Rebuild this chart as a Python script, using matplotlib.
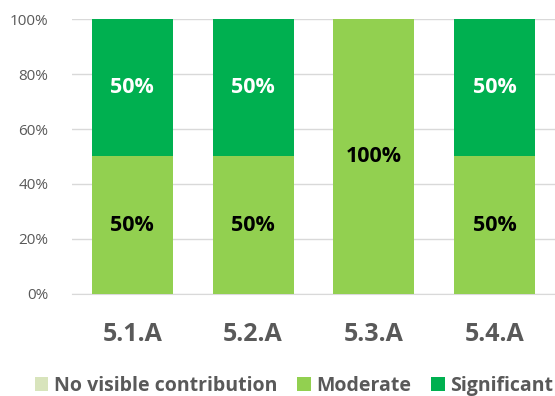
import matplotlib.pyplot as plt
import numpy as np

categories = ["5.1.A", "5.2.A", "5.3.A", "5.4.A"]
series_names = ["No visible contribution", "Moderate", "Significant"]
no_visible = [0, 0, 0, 0]
moderate = [50, 50, 100, 50]
significant = [50, 50, 0, 50]

colors = ["#d8e4bc", "#92d050", "#00b050"]
label_colors = ["black", "black", "white"]

plt.rcParams['font.family'] = ['Open Sans', 'DejaVu Sans']

fig = plt.figure(figsize=(5.55, 3.96), dpi=100)
ax = fig.add_axes([0.1297, 0.2576, 0.8703, 0.6944])

x = np.arange(len(categories))
bottom = np.zeros(len(categories))
handles = []
for name, vals, col, lc in zip(series_names, [no_visible, moderate, significant], colors, label_colors):
    vals = np.array(vals, dtype=float)
    bars = ax.bar(x, vals, 0.67, bottom=bottom, color=col, label=name, zorder=3)
    handles.append(bars)
    for xi, v, b in zip(x, vals, bottom):
        if v > 0:
            ax.text(xi, b + v / 2, f"{int(v)}%", ha="center", va="center",
                    color=lc, fontsize=15.5, fontweight="bold", zorder=4)
    bottom += vals

ax.set_xlim(-0.5, 3.5)
ax.set_ylim(0, 100)
ax.set_yticks(range(0, 101, 20))
ax.set_yticklabels([f"{v}%" for v in range(0, 101, 20)])
ax.yaxis.grid(True, color="#d9d9d9", linewidth=1, zorder=0)
ax.set_xticks(x)
ax.set_xticklabels(categories, fontsize=18, fontweight="bold", color="#595959")
ax.tick_params(axis="y", length=0, labelsize=11, labelcolor="#595959", pad=17)
ax.tick_params(axis="x", length=0, pad=20)
for s in ["top", "right", "left"]:
    ax.spines[s].set_visible(False)
ax.spines["bottom"].set_color("#d9d9d9")
ax.spines["bottom"].set_zorder(1)

leg = fig.legend(handles=handles, labels=series_names, loc="center",
                 bbox_to_anchor=(0.53, 0.025), ncol=3, frameon=False,
                 handlelength=0.7, handleheight=0.7, handletextpad=0.3,
                 columnspacing=1.0, prop={"size": 14, "weight": "bold"})
for t in leg.get_texts():
    t.set_color("#595959")

fig.savefig("out.png", dpi=100)
